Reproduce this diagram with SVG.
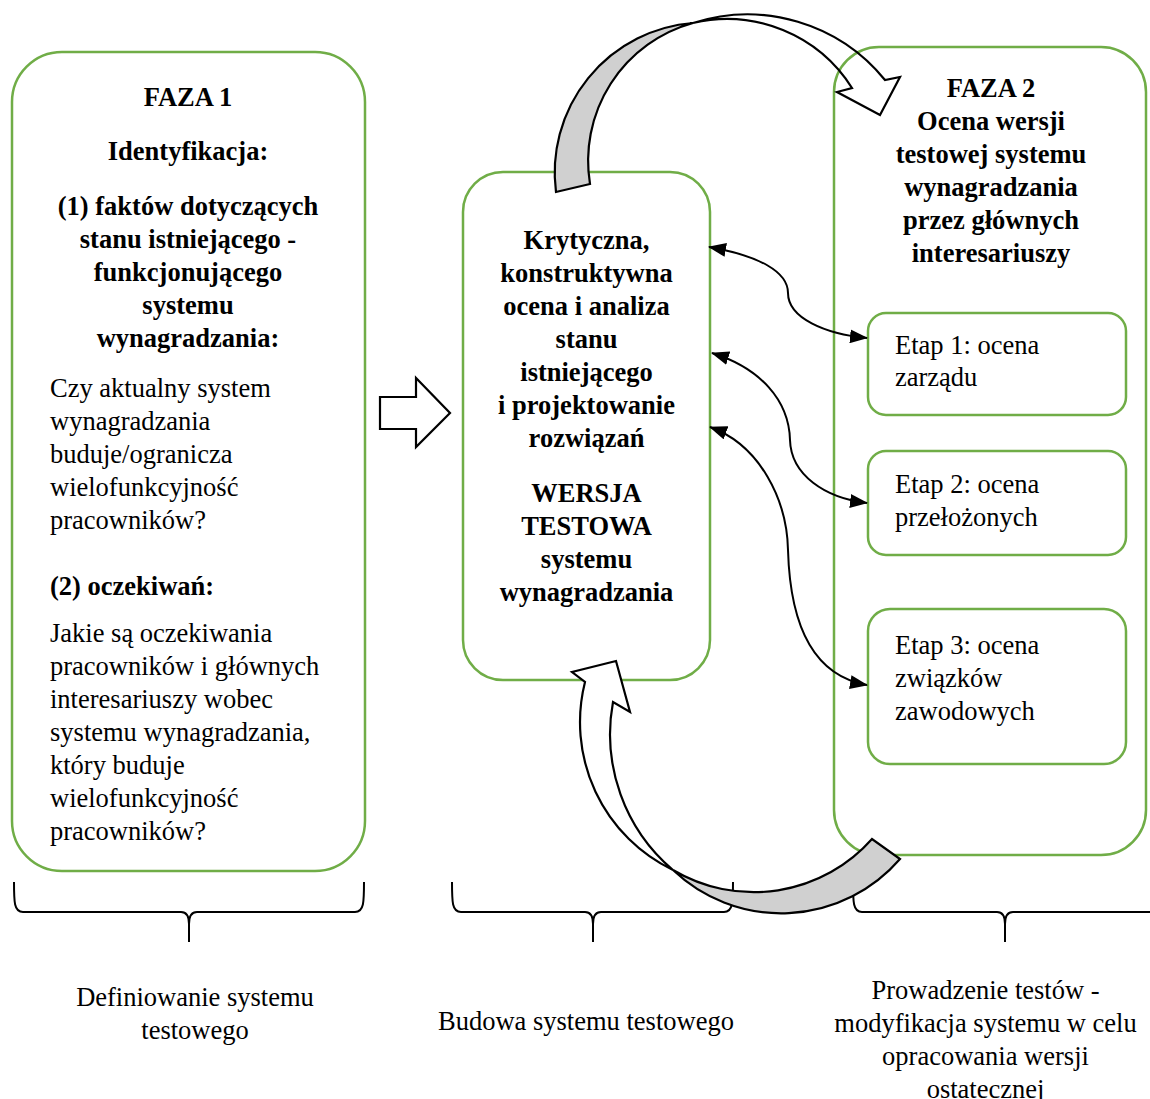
<svg xmlns="http://www.w3.org/2000/svg" width="1150" height="1099" viewBox="0 0 1150 1099">
  <style>
    .box { fill: none; stroke: #70AD47; stroke-width: 2.5; }
    .t { font-family: "Liberation Serif", "Times New Roman", serif; font-size: 26.5px; fill: #000; }
    .b { font-weight: bold; }
    .c { text-anchor: middle; }
    .brace { fill: none; stroke: #000; stroke-width: 2; }
    .link { fill: none; stroke: #000; stroke-width: 2; marker-start: url(#head); marker-end: url(#head); }
    .blk { stroke: #000; stroke-width: 2.2; stroke-linejoin: miter; }
  </style>
  <defs>
    <marker id="head" markerUnits="userSpaceOnUse" markerWidth="18" markerHeight="14" refX="17" refY="7" orient="auto-start-reverse">
      <path d="M0,0 L18,7 L0,14 Z" fill="#000"/>
    </marker>
  </defs>
  <rect width="1150" height="1099" fill="#fff"/>

  <!-- curly braces under the three columns -->
  <g id="braces">
    <path class="brace" d="M14 882 C14 902 14 912 23 912 L181 912 C186 912 189 915 189 924 L189 942 M189 924 C189 915 192 912 197 912 L355 912 C364 912 364 902 364 882"/>
    <path class="brace" d="M452 882 C452 902 452 912 461 912 L585 912 C590 912 593 915 593 924 L593 942 M593 924 C593 915 596 912 601 912 L724 912 C733 912 733 902 733 882"/>
    <path class="brace" d="M853 882 C853 902 853 912 862 912 L997 912 C1002 912 1005 915 1005 924 L1005 942 M1005 924 C1005 915 1008 912 1013 912 L1152 912 C1161 912 1161 902 1161 882"/>
  </g>

  <!-- phase 1 -->
  <g id="faza1">
    <rect class="box" x="12" y="52" width="353" height="819" rx="50"/>
    <text class="t b c" x="188" y="106">FAZA 1</text>
    <text class="t b c" x="188" y="160">Identyfikacja:</text>
    <text class="t b c" x="188" y="215">(1) faktów dotyczących</text>
    <text class="t b c" x="188" y="248">stanu istniejącego -</text>
    <text class="t b c" x="188" y="281">funkcjonującego</text>
    <text class="t b c" x="188" y="314">systemu</text>
    <text class="t b c" x="188" y="347">wynagradzania:</text>
    <text class="t" x="50" y="397">Czy aktualny system</text>
    <text class="t" x="50" y="430">wynagradzania</text>
    <text class="t" x="50" y="463">buduje/ogranicza</text>
    <text class="t" x="50" y="496">wielofunkcyjność</text>
    <text class="t" x="50" y="529">pracowników?</text>
    <text class="t b" x="50" y="595">(2) oczekiwań:</text>
    <text class="t" x="50" y="642">Jakie są oczekiwania</text>
    <text class="t" x="50" y="675">pracowników i głównych</text>
    <text class="t" x="50" y="708">interesariuszy wobec</text>
    <text class="t" x="50" y="741">systemu wynagradzania,</text>
    <text class="t" x="50" y="774">który buduje</text>
    <text class="t" x="50" y="807">wielofunkcyjność</text>
    <text class="t" x="50" y="840">pracowników?</text>
  </g>

  <!-- test version design -->
  <g id="wersja-testowa">
    <rect class="box" x="463" y="172" width="247" height="508" rx="40"/>
    <text class="t b c" x="586.5" y="249">Krytyczna,</text>
    <text class="t b c" x="586.5" y="282">konstruktywna</text>
    <text class="t b c" x="586.5" y="315">ocena i analiza</text>
    <text class="t b c" x="586.5" y="348">stanu</text>
    <text class="t b c" x="586.5" y="381">istniejącego</text>
    <text class="t b c" x="586.5" y="414">i projektowanie</text>
    <text class="t b c" x="586.5" y="447">rozwiązań</text>
    <text class="t b c" x="586.5" y="502">WERSJA</text>
    <text class="t b c" x="586.5" y="535">TESTOWA</text>
    <text class="t b c" x="586.5" y="568">systemu</text>
    <text class="t b c" x="586.5" y="601">wynagradzania</text>
  </g>

  <!-- phase 2 -->
  <g id="faza2">
    <rect class="box" x="834" y="47" width="312" height="808" rx="45"/>
    <text class="t b c" x="991" y="97">FAZA 2</text>
    <text class="t b c" x="991" y="130">Ocena wersji</text>
    <text class="t b c" x="991" y="163">testowej systemu</text>
    <text class="t b c" x="991" y="196">wynagradzania</text>
    <text class="t b c" x="991" y="229">przez głównych</text>
    <text class="t b c" x="991" y="262">interesariuszy</text>
  </g>

  <g id="etap1">
    <rect class="box" x="868" y="313" width="258" height="102" rx="18"/>
    <text class="t" x="895" y="354">Etap 1: ocena</text>
    <text class="t" x="895" y="386">zarządu</text>
  </g>
  <g id="etap2">
    <rect class="box" x="868" y="451" width="258" height="104" rx="18"/>
    <text class="t" x="895" y="493">Etap 2: ocena</text>
    <text class="t" x="895" y="526">przełożonych</text>
  </g>
  <g id="etap3">
    <rect class="box" x="868" y="609" width="258" height="155" rx="22"/>
    <text class="t" x="895" y="654">Etap 3: ocena</text>
    <text class="t" x="895" y="687">związków</text>
    <text class="t" x="895" y="720">zawodowych</text>
  </g>

  <!-- column captions -->
  <g id="podpisy">
    <text class="t c" x="195" y="1006">Definiowanie systemu</text>
    <text class="t c" x="195" y="1039">testowego</text>
    <text class="t c" x="586" y="1030">Budowa systemu testowego</text>
    <text class="t c" x="985.5" y="999">Prowadzenie testów -</text>
    <text class="t c" x="985.5" y="1032">modyfikacja systemu w celu</text>
    <text class="t c" x="985.5" y="1065">opracowania wersji</text>
    <text class="t c" x="985.5" y="1098">ostatecznej</text>
  </g>

  <g id="connectors">
    <!-- hollow block arrow: phase 1 to test version -->
    <polygon class="blk" fill="#fff" points="380,397 416,397 416,378 450,413 416,447 416,429 380,429"/>

    <!-- curved ribbon arrow over the top: test version to phase 2 -->
    <path class="blk" fill="#d0d0d0" d="M556 192 A150 150 0 0 1 693 23 A143 143 0 0 0 590 184 Z"/>
    <path class="blk" fill="none" d="M693 23 A177 177 0 0 1 885 80 L900 77 L880 115 L837 92 L852 88 A148 148 0 0 0 693 23 Z"/>

    <!-- curved ribbon arrow underneath: phase 2 back to test version -->
    <path class="blk" fill="#d0d0d0" d="M673 870 A158 158 0 0 0 872 839 L900 859 A157 157 0 0 1 673 870 Z"/>
    <path class="blk" fill="#fff" d="M585 682 A164 164 0 0 0 673 870 A178 178 0 0 1 613 702 L630 712 L616 661 L572 672 Z"/>

    <!-- two-way links between test version and the three stages -->
    <path class="link" d="M709 247 C760 256 788 272 788 293 C788 318 825 334 867 338"/>
    <path class="link" d="M712 353 C760 368 789 400 790 440 C791 475 825 498 867 503"/>
    <path class="link" d="M710 427 C760 445 787 500 788 550 C790 620 810 675 867 685"/>
  </g>
</svg>
